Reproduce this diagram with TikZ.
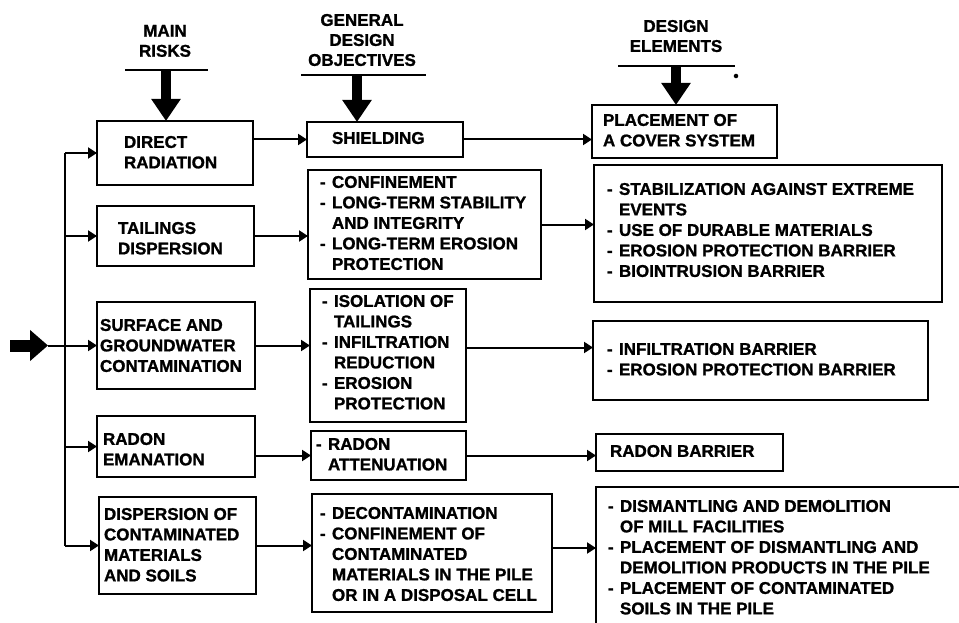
\documentclass[tikz,border=0pt]{standalone}
\usepackage{fontspec}
\setmainfont{Liberation Sans}[BoldFeatures={FakeBold=1.2}]
\usetikzlibrary{arrows.meta,calc}
\newlength\itmw \setlength\itmw{12pt}
\newcommand\itm{\makebox[\itmw][l]{-}}
\newcommand\cnt{\hspace*{\itmw}}
\newcommand\mybox[5]{\node[box,minimum width={#4pt-#2pt},minimum height={#5pt-#3pt}] (#1) at (#2,#3) {};}
\begin{document}
\begin{tikzpicture}[x=1pt,y=-1pt,
 box/.style={draw,line width=2.6pt,inner sep=0pt,outer sep=0pt,anchor=north west},
 txt/.style={inner sep=0pt,outer sep=0pt,anchor=north west,align=left,font=\fontsize{17}{20.5}\selectfont\bfseries},
 hdr/.style={inner sep=0pt,outer sep=0pt,anchor=north,align=center,font=\fontsize{17}{20}\selectfont\bfseries},
 conn/.style={line width=2pt,-{Triangle[length=9pt,width=11pt]}},
 busline/.style={line width=2pt},
 uline/.style={line width=2.5pt},
 big/.style={line width=10pt,-{Triangle[length=22pt,width=28pt]}},
 bigin/.style={line width=12pt,-{Triangle[length=18pt,width=30pt]}}]
\useasboundingbox (0,0) rectangle (959,623);
\clip (0,0) rectangle (959,623);
\fill[white] (0,0) rectangle (959,623);

% headers
\node[hdr] (h1) at (165,25) {MAIN\\RISKS};
\node[hdr] (h2) at (362,14) {GENERAL\\DESIGN\\OBJECTIVES};
\node[hdr] (h3) at (676,20) {DESIGN\\ELEMENTS};
\coordinate (u1a) at (125,70); \coordinate (u1b) at (208,70);
\coordinate (u2a) at (301,75); \coordinate (u2b) at (426,75);
\coordinate (u3a) at (618,66); \coordinate (u3b) at (735,66);
\draw[uline] (u1a) -- (u1b);
\draw[uline] (u2a) -- (u2b);
\draw[uline] (u3a) -- (u3b);
\node[circle,fill,inner sep=1.6pt] (dot) at (736,76) {};

% column 1 boxes
\mybox{r1}{97}{121}{253}{185}
\mybox{r2}{97}{206}{254}{266}
\mybox{r3}{97}{302}{255}{389}
\mybox{r4}{97}{416}{255}{477}
\mybox{r5}{99}{497}{256}{594}
% column 2 boxes
\mybox{s1}{307}{122}{463}{157}
\mybox{s2}{308}{170}{541}{279}
\mybox{s3}{310}{289}{466}{422}
\mybox{s4}{311}{431}{466}{480}
\mybox{s5}{312}{494}{552}{612}
% column 3 boxes
\mybox{d1}{592}{105}{777}{158}
\mybox{d2}{594}{165}{942}{302}
\mybox{d3}{593}{321}{928}{400}
\mybox{d4}{596}{434}{783}{471}
\mybox{d5}{596}{487}{1000}{700}

% texts column 1
\node[txt] (tr1) at (124,136) {DIRECT\\RADIATION};
\node[txt] (tr2) at (118,222) {TAILINGS\\DISPERSION};
\node[txt] (tr3) at (100,319) {SURFACE AND\\GROUNDWATER\\CONTAMINATION};
\node[txt] (tr4) at (103,433) {RADON\\EMANATION};
\node[txt] (tr5) at (104,508) {DISPERSION OF\\CONTAMINATED\\MATERIALS\\AND SOILS};
% texts column 2
\node[txt] (ts1) at (332,132) {SHIELDING};
\node[txt] (ts2) at (320,176) {\itm CONFINEMENT\\\itm LONG-TERM STABILITY\\\cnt AND INTEGRITY\\\itm LONG-TERM EROSION\\\cnt PROTECTION};
\node[txt] (ts3) at (322,295) {\itm ISOLATION OF\\\cnt TAILINGS\\\itm INFILTRATION\\\cnt REDUCTION\\\itm EROSION\\\cnt PROTECTION};
\node[txt] (ts4) at (316,438) {\itm RADON\\\cnt ATTENUATION};
\node[txt] (ts5) at (320,507) {\itm DECONTAMINATION\\\itm CONFINEMENT OF\\\cnt CONTAMINATED\\\cnt MATERIALS IN THE PILE\\\cnt OR IN A DISPOSAL CELL};
% texts column 3
\node[txt] (td1) at (603,114) {PLACEMENT OF\\A COVER SYSTEM};
\node[txt] (td2) at (607,183) {\itm STABILIZATION AGAINST EXTREME\\\cnt EVENTS\\\itm USE OF DURABLE MATERIALS\\\itm EROSION PROTECTION BARRIER\\\itm BIOINTRUSION BARRIER};
\node[txt] (td3) at (607,343) {\itm INFILTRATION BARRIER\\\itm EROSION PROTECTION BARRIER};
\node[txt] (td4) at (610,445) {RADON BARRIER};
\node[txt] (td5) at (608,500) {\itm DISMANTLING AND DEMOLITION\\\cnt OF MILL FACILITIES\\\itm PLACEMENT OF DISMANTLING AND\\\cnt DEMOLITION PRODUCTS IN THE PILE\\\itm PLACEMENT OF CONTAMINATED\\\cnt SOILS IN THE PILE};

% big header arrows
\coordinate (a1) at (166,70);
\coordinate (a2) at (357,75);
\coordinate (a3) at (676,66);
\draw[big] (a1) -- (a1 |- r1.north);
\draw[big] (a2) -- (a2 |- s1.north);
\draw[big] (a3) -- (a3 |- d1.north);

% input arrow and bus
\coordinate (bus) at (65,0);
\coordinate (in0) at (10,0);
\coordinate (in1) at (48,0);
\draw[bigin] (in0 |- r3.west) -- (in1 |- r3.west);
\draw[conn] (in1 |- r3.west) -- (r3.west);
\draw[busline] (bus |- r1.west) -- (bus |- r5.west);
\draw[conn] (bus |- r1.west) -- (r1.west);
\draw[conn] (bus |- r2.west) -- (r2.west);
\draw[conn] (bus |- r4.west) -- (r4.west);
\draw[conn] (bus |- r5.west) -- (r5.west);

% column 1 -> column 2
\draw[conn] (r1.east |- s1.west) -- (s1.west);
\draw[conn] (r2.east) -- (r2.east -| s2.west);
\draw[conn] (r3.east) -- (r3.east -| s3.west);
\draw[conn] (r4.east |- s4.west) -- (s4.west);
\draw[conn] (r5.east) -- (r5.east -| s5.west);

% column 2 -> column 3
\draw[conn] (s1.east) -- (s1.east -| d1.west);
\draw[conn] (s2.east) -- (s2.east -| d2.west);
\coordinate (c3) at ($(s3.east)+(0,-8)$);
\draw[conn] (c3) -- (c3 -| d3.west);
\draw[conn] (s4.east) -- (s4.east -| d4.west);
\coordinate (c5) at ($(s5.east)+(0,-5)$);
\draw[conn] (c5) -- (c5 -| d5.west);
\end{tikzpicture}
\end{document}
